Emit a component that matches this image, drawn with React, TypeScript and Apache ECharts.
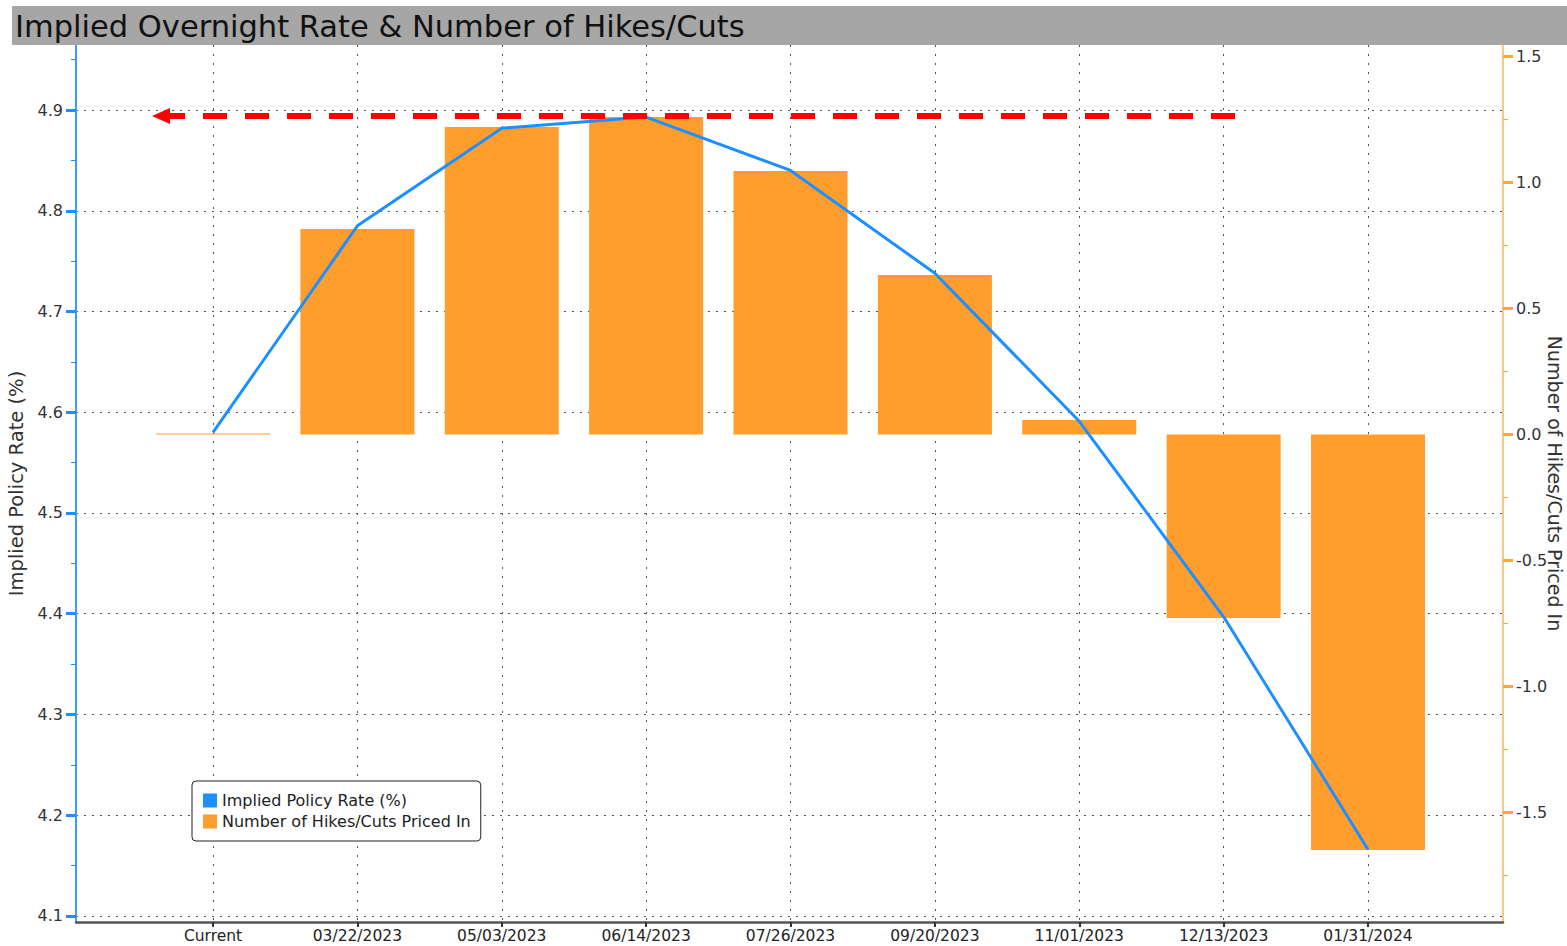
import React, { useEffect, useRef } from 'react';
import * as echarts from 'echarts';

// ---- data ----
const categories = [
  'Current', '03/22/2023', '05/03/2023', '06/14/2023', '07/26/2023',
  '09/20/2023', '11/01/2023', '12/13/2023', '01/31/2024',
];
const impliedPolicyRate = [4.580, 4.785, 4.882, 4.893, 4.840, 4.738, 4.591, 4.397, 4.166];
const hikesCutsPricedIn = [0.004, 0.815, 1.22, 1.26, 1.046, 0.633, 0.058, -0.728, -1.649];

const leftTicks = [4.1, 4.2, 4.3, 4.4, 4.5, 4.6, 4.7, 4.8, 4.9];
const leftMinorTicks = [4.15, 4.25, 4.35, 4.45, 4.55, 4.65, 4.75, 4.85, 4.95];
const rightTicks = [-1.5, -1.0, -0.5, 0, 0.5, 1.0, 1.5];
const rightMinorTicks = [-1.75, -1.25, -0.75, -0.25, 0.25, 0.75, 1.25];
const categoryTicks = [0, 1, 2, 3, 4, 5, 6, 7, 8];

// annotation: red dashed arrow at peak rate level
const peakLevel = 4.894;
const peakArrowSpan = [-0.36, 7.16];

// axis extents
const xExtent = [-0.9489, 8.935];
const leftExtent = [4.09404, 4.96452];
const rightExtent = [-1.9345, 1.5456];

const FONT = '"DejaVu Sans", Verdana, sans-serif';
const BLUE = '#1E8FFF';
const ORANGE = '#FF9E2C';

const dotted = (c: string, t: number[]) => ({ show: true, lineStyle: { color: c, width: 1, type: t } });

export default function App() {
  const ref = useRef<HTMLDivElement>(null);
  useEffect(() => {
    const chart = echarts.init(ref.current!, null, { renderer: 'svg' });
    const option: any = {
      animation: false,
      textStyle: { fontFamily: FONT },
      title: {
        text: 'Implied Overnight Rate & Number of Hikes/Cuts',
        left: 15,
        top: 7,
        padding: 0,
        z: 60,
        textStyle: { fontSize: 30.5, fontWeight: 'normal', color: '#111', fontFamily: FONT, lineHeight: 39 },
      },
      graphic: [
        { type: 'rect', z: 50, shape: { x: 12, y: 6, width: 1555, height: 39 }, style: { fill: '#A6A6A6' } },
      ],
      legend: {
        orient: 'vertical',
        left: 192,
        top: 781,
        itemWidth: 14,
        itemHeight: 14,
        itemGap: 4,
        icon: 'rect',
        padding: [11, 10, 11, 11],
        borderColor: '#222',
        borderWidth: 1,
        borderRadius: 4,
        backgroundColor: '#fff',
        textStyle: { fontSize: 16, color: '#222', fontFamily: FONT, lineHeight: 17 },
        data: ['Implied Policy Rate (%)', 'Number of Hikes/Cuts Priced In'],
      },
      grid: { left: 76, right: 64, top: 45, bottom: 24, containLabel: false, outerBoundsMode: 'none' },
      xAxis: [
        {
          type: 'value',
          min: xExtent[0],
          max: xExtent[1],
          axisLine: { show: true, onZero: false, lineStyle: { color: '#555', width: 2.5 } },
          axisTick: { show: true, customValues: categoryTicks, length: 5, lineStyle: { color: '#333', width: 2 } },
          axisLabel: {
            customValues: categoryTicks,
            formatter: (v: number) => categories[Math.round(v)] ?? '',
            fontSize: 15.5,
            color: '#222',
            margin: 6,
            fontFamily: FONT,
          },
          splitLine: dotted('#555', [2, 7]),
        },
      ],
      yAxis: [
        {
          type: 'value',
          position: 'left',
          min: leftExtent[0],
          max: leftExtent[1],
          name: 'Implied Policy Rate (%)',
          nameLocation: 'middle',
          nameGap: 41,
          nameTextStyle: { fontSize: 19.5, color: '#333', fontFamily: FONT },
          axisLine: { show: true, onZero: false, lineStyle: { color: '#3D9BFF', width: 2 } },
          axisTick: { show: true, customValues: leftTicks, length: 10, lineStyle: { color: BLUE, width: 3 } },
          axisLabel: {
            customValues: leftTicks,
            formatter: (v: number) => v.toFixed(1),
            fontSize: 16,
            color: '#333',
            margin: 13,
            fontFamily: FONT,
          },
          splitLine: dotted('#555', [2, 6]),
        },
        {
          type: 'value',
          position: 'right',
          min: rightExtent[0],
          max: rightExtent[1],
          name: 'Number of Hikes/Cuts Priced In',
          nameLocation: 'middle',
          nameRotate: -90,
          nameGap: 52,
          nameMoveOverlap: false,
          nameTextStyle: { fontSize: 19, color: '#333', fontFamily: FONT, align: 'center', verticalAlign: 'middle' },
          axisLine: { show: true, onZero: false, lineStyle: { color: '#FFB060', width: 1.5 } },
          axisTick: { show: true, customValues: rightTicks, length: 10, lineStyle: { color: '#FFA53C', width: 3 } },
          axisLabel: {
            customValues: rightTicks,
            formatter: (v: number) => v.toFixed(1),
            fontSize: 16,
            color: '#333',
            margin: 13,
            fontFamily: FONT,
          },
          splitLine: { show: false },
        },
        {
          type: 'value',
          position: 'left',
          min: leftExtent[0],
          max: leftExtent[1],
          axisLine: { show: false, onZero: false },
          axisTick: { show: true, customValues: leftMinorTicks, length: 5, lineStyle: { color: BLUE, width: 1 } },
          axisLabel: { show: false },
          splitLine: { show: false },
        },
        {
          type: 'value',
          position: 'right',
          min: rightExtent[0],
          max: rightExtent[1],
          axisLine: { show: false, onZero: false },
          axisTick: { show: true, customValues: rightMinorTicks, length: 5, lineStyle: { color: '#FFA53C', width: 1 } },
          axisLabel: { show: false },
          splitLine: { show: false },
        },
      ],
      series: [
        {
          name: 'Number of Hikes/Cuts Priced In',
          type: 'bar',
          xAxisIndex: 0,
          yAxisIndex: 1,
          barWidth: 114,
          itemStyle: { color: ORANGE },
          color: ORANGE,
          data: hikesCutsPricedIn.map((v, i) => [i, v]),
          z: 2,
        },
        {
          name: 'Implied Policy Rate (%)',
          type: 'line',
          xAxisIndex: 0,
          yAxisIndex: 0,
          symbol: 'none',
          color: BLUE,
          itemStyle: { color: BLUE },
          lineStyle: { color: BLUE, width: 3 },
          data: impliedPolicyRate.map((v, i) => [i, v]),
          z: 3,
          markLine: {
            silent: true,
            symbol: ['triangle', 'none'],
            symbolSize: [16, 18],
            label: { show: false },
            lineStyle: { color: '#FF0000', width: 6, type: [24, 18] },
            itemStyle: { color: '#FF0000' },
            data: [[{ coord: [peakArrowSpan[0], peakLevel] }, { coord: [peakArrowSpan[1], peakLevel] }]],
          },
        },
      ],
    };
    chart.setOption(option);
    return () => chart.dispose();
  }, []);
  return (
    <div
      ref={ref}
      style={{ position: 'fixed', left: 0, top: 0, width: 1567, height: 946, background: '#fff' }}
    />
  );
}
